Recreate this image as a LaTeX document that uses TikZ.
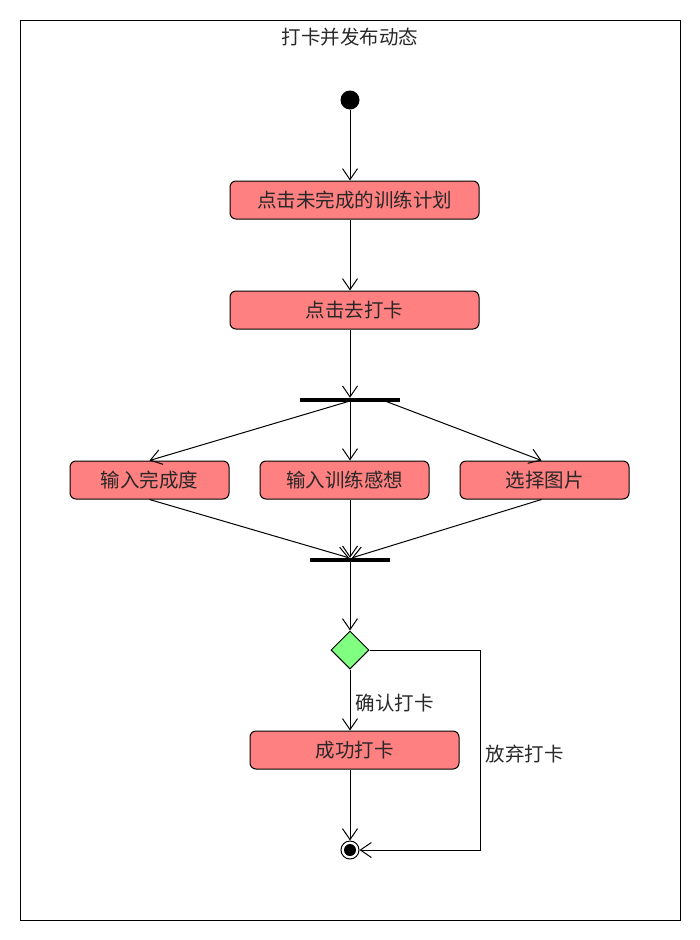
\documentclass[tikz,border=0pt]{standalone}
\usepackage{fontspec}
\setmainfont{Noto Sans CJK SC}
\usetikzlibrary{arrows.meta,shapes.geometric,calc}
\definecolor{actred}{RGB}{255,128,128}
\definecolor{decgreen}{RGB}{128,255,128}
\definecolor{txt}{RGB}{40,40,40}
\tikzset{
  act/.style={draw, fill=actred, rounded corners=6pt, minimum height=38pt, inner sep=0pt, line width=1pt, text=txt, font=\fontsize{19.5}{22}\selectfont},
  bar/.style={fill=black, minimum height=4pt, inner sep=0pt},
  flow/.style={line width=1pt, -{Straight Barb[length=11pt,width=15pt,line width=1pt]}},
  lbl/.style={font=\fontsize{19.5}{22}\selectfont, text=txt, inner sep=0pt},
}
\begin{document}
\begin{tikzpicture}[x=1pt,y=-1pt]
\useasboundingbox (0,0) rectangle (700,940);
\draw[line width=1pt] (20,20) rectangle (680,920);
\node[lbl] (title) at (350,37) {打卡并发布动态};
\node[circle, fill=black, minimum size=19pt, inner sep=0pt] (init) at (350,100) {};
\node[act, minimum width=249pt] (a1) at (354.5,200) {点击未完成的训练计划};
\node[act, minimum width=249pt] (a2) at (354.5,310) {点击去打卡};
\node[bar, minimum width=100pt] (fork) at (350,400) {};
\node[act, minimum width=159pt] (a3) at (149.5,480) {输入完成度};
\node[act, minimum width=169pt] (a4) at (344.5,480) {输入训练感想};
\node[act, minimum width=169pt] (a5) at (544.5,480) {选择图片};
\node[bar, minimum width=80pt] (join) at (350,560) {};
\node[diamond, aspect=1, draw, fill=decgreen, minimum width=38pt, minimum height=38pt, inner sep=0pt, line width=1pt] (dec) at (350,650) {};
\node[act, minimum width=209pt] (a6) at (354.5,750) {成功打卡};
\node[circle, draw, fill=white, minimum size=18pt, inner sep=0pt, line width=1pt] (final) at (350,850) {};
\fill (final.center) circle (6pt);
\coordinate (corner1) at (480,650);
\coordinate (corner2) at (480,850);

\draw[flow] (init) -- (init |- a1.north);
\draw[flow] (a1.south -| init) -- (a2.north -| init);
\draw[flow] (a2.south -| init) -- (fork.north);
\draw[flow] ($(fork.center)+(0,1)$) -- (a3.north);
\draw[flow] (fork.south) -- (a4.north -| fork);
\draw[flow] ($(fork.center)+(35,1)$) -- ($(a5.north)+(-3,0)$);
\draw[flow] (a3.south) -- ($(join.north)+(-1,0)$);
\draw[flow] (a4.south -| join) -- (join.north);
\draw[flow] ($(a5.south)+(-3,0)$) -- ($(join.north)+(2,0)$);
\draw[flow] (join.south) -- (dec.north);
\draw[flow] (dec.south) -- node[lbl, right=5pt, pos=0.55] {确认打卡} (a6.north -| dec);
\draw[flow] (a6.south -| dec) -- (final.north);
\draw[flow] (dec.east) -- (corner1) -- node[lbl, right=5pt, pos=0.52] {放弃打卡} (corner2) -- (final.east);
\end{tikzpicture}
\end{document}
